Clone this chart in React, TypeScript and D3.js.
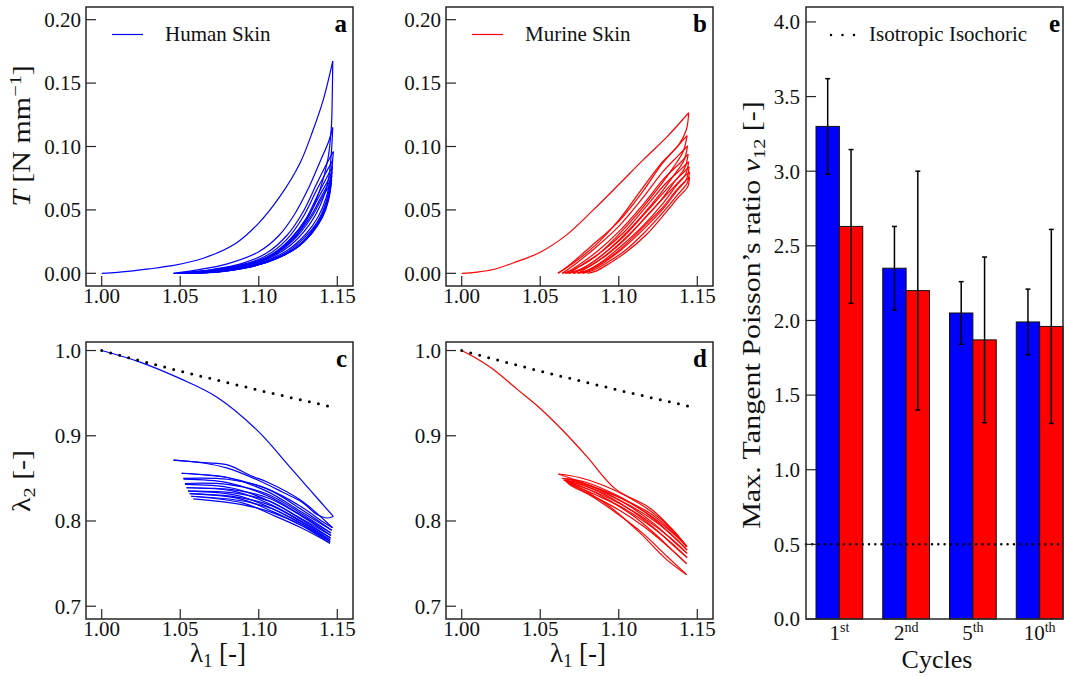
import React from 'react';
import * as d3 from 'd3';

type Pt = [number, number];

// ---- panel a: human skin, T vs lambda1 (loading / unloading per cycle)
const humanTLoad: Pt[][] = [
  [[1.000, 0], [1.010, 0.0008], [1.020, 0.002], [1.030, 0.0035], [1.0435, 0.0058], [1.0647, 0.0119], [1.086, 0.0242], [1.100, 0.0396], [1.1135, 0.0606], [1.1263, 0.087], [1.1347, 0.1134], [1.1411, 0.137], [1.1471, 0.1674]],
  [[1.0457, 0], [1.060, 0.0025], [1.080, 0.0075], [1.100, 0.017], [1.113, 0.030], [1.123, 0.047], [1.132, 0.068], [1.139, 0.088], [1.1445, 0.104], [1.1471, 0.115]],
  [[1.049, 0], [1.070, 0.003], [1.090, 0.008], [1.105, 0.016], [1.118, 0.030], [1.128, 0.048], [1.137, 0.071], [1.1435, 0.087], [1.1475, 0.096]],
  [[1.051, 0], [1.070, 0.0025], [1.090, 0.007], [1.105, 0.014], [1.118, 0.027], [1.128, 0.044], [1.137, 0.066], [1.1435, 0.081], [1.147, 0.089]],
  [[1.053, 0], [1.072, 0.0025], [1.092, 0.007], [1.107, 0.014], [1.120, 0.027], [1.130, 0.043], [1.138, 0.063], [1.1435, 0.076], [1.1468, 0.084]],
  [[1.055, 0], [1.075, 0.0025], [1.095, 0.0075], [1.110, 0.016], [1.122, 0.029], [1.131, 0.044], [1.139, 0.062], [1.144, 0.073], [1.1466, 0.080]],
  [[1.057, 0], [1.077, 0.0025], [1.097, 0.008], [1.112, 0.017], [1.124, 0.030], [1.133, 0.045], [1.140, 0.061], [1.1445, 0.071], [1.1465, 0.077]],
  [[1.058, 0], [1.078, 0.0025], [1.098, 0.008], [1.113, 0.017], [1.125, 0.030], [1.134, 0.045], [1.1405, 0.060], [1.1448, 0.069], [1.1464, 0.074]],
];
const humanTUnload: Pt[][] = [
  [[1.1471, 0.1674], [1.1468, 0.140], [1.1462, 0.115], [1.144, 0.090], [1.139, 0.066], [1.131, 0.043], [1.120, 0.025], [1.105, 0.012], [1.085, 0.0055], [1.065, 0.002], [1.0457, 0]],
  [[1.1471, 0.115], [1.1462, 0.095], [1.1445, 0.075], [1.140, 0.056], [1.132, 0.038], [1.120, 0.022], [1.105, 0.011], [1.085, 0.0045], [1.065, 0.0015], [1.048, 0]],
  [[1.1475, 0.096], [1.146, 0.078], [1.143, 0.060], [1.138, 0.045], [1.130, 0.031], [1.118, 0.018], [1.100, 0.008], [1.080, 0.003], [1.050, 0]],
  [[1.147, 0.089], [1.1455, 0.071], [1.1425, 0.055], [1.137, 0.040], [1.129, 0.028], [1.117, 0.016], [1.100, 0.0075], [1.080, 0.0025], [1.052, 0]],
  [[1.1468, 0.084], [1.1452, 0.066], [1.142, 0.051], [1.136, 0.037], [1.128, 0.025], [1.116, 0.0145], [1.100, 0.007], [1.080, 0.002], [1.054, 0]],
  [[1.1466, 0.080], [1.145, 0.063], [1.1415, 0.048], [1.135, 0.034], [1.126, 0.022], [1.114, 0.013], [1.098, 0.006], [1.078, 0.0018], [1.056, 0]],
  [[1.1465, 0.077], [1.1448, 0.061], [1.141, 0.046], [1.134, 0.032], [1.125, 0.021], [1.112, 0.012], [1.096, 0.0055], [1.076, 0.0015], [1.058, 0]],
  [[1.1464, 0.074], [1.1445, 0.058], [1.1405, 0.044], [1.1335, 0.031], [1.124, 0.020], [1.111, 0.0115], [1.095, 0.005], [1.075, 0.0012], [1.059, 0]],
];

// ---- panel b: murine skin, T vs lambda1
const murineTLoad: Pt[][] = [
  [[1.000, 0], [1.010, 0.001], [1.020, 0.003], [1.035, 0.0092], [1.050, 0.0166], [1.0668, 0.0303], [1.0838, 0.050], [1.100, 0.070], [1.116, 0.090], [1.131, 0.108], [1.1445, 0.1266]],
  [[1.0615, 0], [1.070, 0.008], [1.082, 0.021], [1.100, 0.041], [1.115, 0.064], [1.128, 0.087], [1.138, 0.101], [1.1435, 0.1086]],
  [[1.064, 0], [1.073, 0.008], [1.085, 0.020], [1.100, 0.037], [1.115, 0.059], [1.128, 0.080], [1.138, 0.093], [1.1438, 0.1005]],
  [[1.066, 0], [1.075, 0.007], [1.087, 0.018], [1.101, 0.034], [1.116, 0.055], [1.129, 0.075], [1.139, 0.087], [1.1442, 0.094]],
  [[1.068, 0], [1.077, 0.007], [1.089, 0.017], [1.103, 0.032], [1.117, 0.052], [1.130, 0.071], [1.1395, 0.082], [1.1445, 0.088]],
  [[1.071, 0], [1.080, 0.006], [1.091, 0.016], [1.104, 0.030], [1.118, 0.049], [1.131, 0.067], [1.140, 0.078], [1.1448, 0.084]],
  [[1.074, 0], [1.082, 0.006], [1.093, 0.015], [1.105, 0.028], [1.119, 0.047], [1.132, 0.064], [1.1405, 0.075], [1.145, 0.080]],
  [[1.077, 0], [1.086, 0.006], [1.097, 0.015], [1.107, 0.026], [1.120, 0.042], [1.128, 0.052], [1.137, 0.066], [1.145, 0.076]],
];
const murineTUnload: Pt[][] = [
  [[1.1445, 0.1266], [1.143, 0.113], [1.138, 0.101], [1.128, 0.088], [1.115, 0.067], [1.100, 0.042], [1.085, 0.022], [1.072, 0.009], [1.0611, 0]],
  [[1.1435, 0.1086], [1.141, 0.096], [1.135, 0.084], [1.125, 0.067], [1.112, 0.047], [1.098, 0.028], [1.085, 0.013], [1.073, 0.004], [1.064, 0]],
  [[1.1438, 0.1005], [1.1415, 0.089], [1.1355, 0.078], [1.126, 0.062], [1.113, 0.043], [1.099, 0.025], [1.086, 0.011], [1.075, 0.003], [1.066, 0]],
  [[1.1442, 0.094], [1.142, 0.083], [1.136, 0.073], [1.127, 0.058], [1.114, 0.040], [1.100, 0.023], [1.087, 0.010], [1.077, 0.003], [1.068, 0]],
  [[1.1445, 0.088], [1.1425, 0.078], [1.1365, 0.069], [1.128, 0.055], [1.115, 0.037], [1.101, 0.021], [1.089, 0.009], [1.079, 0.002], [1.071, 0]],
  [[1.1448, 0.084], [1.143, 0.074], [1.137, 0.065], [1.129, 0.052], [1.116, 0.035], [1.102, 0.019], [1.090, 0.008], [1.081, 0.002], [1.074, 0]],
  [[1.145, 0.080], [1.1435, 0.071], [1.1375, 0.062], [1.1295, 0.050], [1.117, 0.033], [1.104, 0.018], [1.092, 0.008], [1.083, 0.002], [1.077, 0]],
  [[1.145, 0.076], [1.1438, 0.068], [1.138, 0.060], [1.130, 0.048], [1.118, 0.031], [1.105, 0.017], [1.093, 0.007], [1.085, 0.0015], [1.080, 0]],
];

// ---- panel c: human skin, lambda2 vs lambda1
const humanL2Load: Pt[][] = [
  [[1.000, 1.000], [1.0244, 0.9864], [1.050, 0.967], [1.0732, 0.9455], [1.100, 0.9046], [1.1178, 0.8676], [1.1326, 0.8364], [1.1475, 0.8053]],
  [[1.0457, 0.8715], [1.065, 0.8685], [1.0806, 0.8656], [1.095, 0.853], [1.105, 0.846], [1.1263, 0.8248], [1.147, 0.792]],
  [[1.0509, 0.856], [1.080, 0.851], [1.105, 0.835], [1.126, 0.812], [1.1465, 0.789]],
  [[1.052, 0.849], [1.080, 0.845], [1.105, 0.830], [1.126, 0.808], [1.146, 0.786]],
  [[1.053, 0.843], [1.082, 0.839], [1.106, 0.824], [1.127, 0.803], [1.146, 0.783]],
  [[1.054, 0.839], [1.084, 0.835], [1.107, 0.820], [1.127, 0.800], [1.1458, 0.780]],
  [[1.055, 0.835], [1.086, 0.830], [1.108, 0.815], [1.127, 0.797], [1.1455, 0.778]],
  [[1.056, 0.832], [1.088, 0.826], [1.109, 0.811], [1.127, 0.795], [1.1455, 0.776]],
  [[1.057, 0.829], [1.090, 0.821], [1.110, 0.806], [1.127, 0.792], [1.1453, 0.774]],
];
const humanL2Unload: Pt[][] = [
  [[1.1475, 0.8053], [1.143, 0.8035], [1.137, 0.8075], [1.128, 0.8215], [1.115, 0.834], [1.100, 0.8475], [1.080, 0.862], [1.065, 0.868], [1.0457, 0.8715]],
  [[1.147, 0.792], [1.140, 0.800], [1.126, 0.818], [1.105, 0.838], [1.080, 0.851], [1.065, 0.854], [1.0509, 0.856]],
  [[1.1465, 0.789], [1.126, 0.815], [1.105, 0.838], [1.080, 0.849], [1.052, 0.850]],
  [[1.146, 0.786], [1.126, 0.810], [1.105, 0.832], [1.080, 0.843], [1.053, 0.844]],
  [[1.146, 0.783], [1.127, 0.806], [1.106, 0.827], [1.082, 0.837], [1.054, 0.839]],
  [[1.1458, 0.780], [1.127, 0.802], [1.107, 0.823], [1.084, 0.833], [1.055, 0.835]],
  [[1.1455, 0.778], [1.127, 0.799], [1.108, 0.818], [1.086, 0.828], [1.056, 0.832]],
  [[1.1455, 0.776], [1.127, 0.797], [1.109, 0.814], [1.088, 0.824], [1.057, 0.829]],
  [[1.1453, 0.774], [1.127, 0.795], [1.110, 0.809], [1.090, 0.819], [1.0583, 0.826]],
];

// ---- panel d: murine skin, lambda2 vs lambda1
const murineL2Load: Pt[][] = [
  [[1.000, 1.000], [1.010, 0.990], [1.020, 0.978], [1.035, 0.955], [1.050, 0.932], [1.065, 0.905], [1.080, 0.875], [1.0976, 0.838], [1.1199, 0.815], [1.1347, 0.789], [1.1432, 0.7697]],
  [[1.0615, 0.8551], [1.075, 0.851], [1.090, 0.842], [1.105, 0.829], [1.120, 0.812], [1.134, 0.790], [1.1435, 0.770]],
  [[1.064, 0.850], [1.078, 0.846], [1.092, 0.836], [1.107, 0.822], [1.122, 0.803], [1.135, 0.781], [1.1435, 0.766]],
  [[1.065, 0.848], [1.079, 0.843], [1.093, 0.832], [1.108, 0.816], [1.123, 0.796], [1.135, 0.776], [1.1435, 0.762]],
  [[1.066, 0.847], [1.080, 0.840], [1.094, 0.828], [1.109, 0.811], [1.123, 0.791], [1.135, 0.771], [1.1435, 0.757]],
  [[1.067, 0.846], [1.081, 0.837], [1.095, 0.823], [1.110, 0.805], [1.123, 0.785], [1.135, 0.764], [1.1432, 0.750]],
  [[1.0668, 0.846], [1.080, 0.834], [1.0944, 0.8166], [1.1135, 0.786], [1.1305, 0.7547], [1.1432, 0.737]],
];
const murineL2Unload: Pt[][] = [
  [[1.1432, 0.7697], [1.135, 0.786], [1.120, 0.809], [1.100, 0.828], [1.080, 0.843], [1.0615, 0.8551]],
  [[1.1435, 0.770], [1.133, 0.788], [1.118, 0.809], [1.102, 0.826], [1.085, 0.839], [1.070, 0.848], [1.064, 0.850]],
  [[1.1435, 0.766], [1.133, 0.785], [1.118, 0.806], [1.102, 0.823], [1.085, 0.837], [1.070, 0.846], [1.065, 0.848]],
  [[1.1435, 0.762], [1.133, 0.780], [1.118, 0.801], [1.102, 0.819], [1.085, 0.834], [1.070, 0.844], [1.066, 0.847]],
  [[1.1435, 0.757], [1.133, 0.775], [1.118, 0.797], [1.102, 0.816], [1.085, 0.831], [1.070, 0.843], [1.067, 0.846]],
  [[1.1432, 0.750], [1.132, 0.769], [1.117, 0.792], [1.101, 0.812], [1.085, 0.828], [1.070, 0.841], [1.0668, 0.846]],
  [[1.1432, 0.737], [1.131, 0.758], [1.115, 0.786], [1.098, 0.810], [1.082, 0.830], [1.068, 0.844]],
];

// isotropic isochoric reference line
const isochoric: Pt[] = [[1.000, 1.000], [1.025, 0.9877], [1.050, 0.9759], [1.075, 0.9645], [1.100, 0.9535], [1.125, 0.9428], [1.147, 0.9337]];

// ---- panel e: bars
const cycleNums = ['1', '2', '5', '10'];
const cycleSuffix = ['st', 'nd', 'th', 'th'];
const humanMean = [3.30, 2.35, 2.05, 1.99];
const humanSd = [0.32, 0.28, 0.21, 0.22];
const murineMean = [2.63, 2.20, 1.87, 1.96];
const murineSd = [0.515, 0.80, 0.555, 0.65];

const lamTicks = [1.0, 1.05, 1.1, 1.15];
const tTicks = [0, 0.05, 0.1, 0.15, 0.2];
const l2Ticks = [0.7, 0.8, 0.9, 1.0];
const nuTicks = [0, 0.5, 1, 1.5, 2, 2.5, 3, 3.5, 4];

const FONT = '"Liberation Serif", "Times New Roman", serif';
const BLUE = '#0000ff';
const RED = '#ff0000';
const AX = '#262626';
const TICK_FS = 21;

// rotated axis label, a bit stretched along its length like the original
const VLabel = ({ x, y, children }: { x: number; y: number; children: React.ReactNode }) => (
  <text transform={`translate(${x},${y}) rotate(-90) scale(1.2,1)`} textAnchor="middle" fontSize={25} fontFamily={FONT} fill="#111">
    {children}
  </text>
);

interface PanelProps {
  left: number; top: number; right: number; bottom: number;
  yDomain: [number, number]; yTicks: number[]; yFmt: string;
  load: Pt[][]; unload: Pt[][]; color: string; letter: string;
  legend?: string; iso?: boolean;
}

function Panel(p: PanelProps) {
  const x = d3.scaleLinear().domain([0.99, 1.16]).range([p.left, p.right]);
  const y = d3.scaleLinear().domain(p.yDomain).range([p.bottom, p.top]);
  const line = d3.line<Pt>().x(d => x(d[0])).y(d => y(d[1])).curve(d3.curveCatmullRom.alpha(0.5));
  const fmtY = d3.format(p.yFmt);
  const fmtX = d3.format('.2f');
  const clipId = 'clip-' + p.letter;
  return (
    <g>
      <clipPath id={clipId}>
        <rect x={p.left} y={p.top} width={p.right - p.left} height={p.bottom - p.top} />
      </clipPath>
      <g clipPath={`url(#${clipId})`} fill="none" stroke={p.color} strokeWidth={1.2}>
        {p.load.map((c, i) => <path key={'l' + i} d={line(c) || ''} />)}
        {p.unload.map((c, i) => <path key={'u' + i} d={line(c) || ''} />)}
        {p.iso && (
          <path d={d3.line<Pt>().x(d => x(d[0])).y(d => y(d[1]))(isochoric) || ''}
            stroke="#000" strokeWidth={3} strokeLinecap="round" strokeDasharray="0,9.3" />
        )}
      </g>
      {lamTicks.map(t => (
        <g key={'x' + t}>
          <line x1={x(t)} x2={x(t)} y1={p.bottom} y2={p.bottom - 10} stroke={AX} strokeWidth={1.2} />
          <text x={x(t)} y={p.bottom + 17} textAnchor="middle" fontSize={TICK_FS} fontFamily={FONT} fill="#111">{fmtX(t)}</text>
        </g>
      ))}
      {p.yTicks.map(t => (
        <g key={'y' + t}>
          <line x1={p.left} x2={p.left + 10} y1={y(t)} y2={y(t)} stroke={AX} strokeWidth={1.2} />
          <text x={p.left - 5} y={y(t)} dy="0.35em" textAnchor="end" fontSize={TICK_FS} fontFamily={FONT} fill="#111">{fmtY(t)}</text>
        </g>
      ))}
      <rect x={p.left} y={p.top} width={p.right - p.left} height={p.bottom - p.top} fill="none" stroke={AX} strokeWidth={1.5} />
      <text x={p.right - 6} y={p.top + 25} textAnchor="end" fontSize={25} fontWeight="bold" fontFamily={FONT}>{p.letter}</text>
      {p.legend && (
        <g>
          <line x1={p.left + 26} x2={p.left + 57} y1={p.top + 27.5} y2={p.top + 27.5} stroke={p.color} strokeWidth={1.2} />
          <text x={p.left + 79} y={p.top + 34} fontSize={21} fontFamily={FONT} fill="#111">{p.legend}</text>
        </g>
      )}
    </g>
  );
}

function Bars() {
  const left = 806, right = 1063, top = 7, bottom = 619;
  const x = d3.scaleLinear().domain([-0.5, 3.35]).range([left, right]);
  const y = d3.scaleLinear().domain([0, 4.1]).range([bottom, top]);
  const w = 0.35;
  const fmt = d3.format('.1f');
  const series = [
    { mean: humanMean, sd: humanSd, color: BLUE, off: -w },
    { mean: murineMean, sd: murineSd, color: RED, off: 0 },
  ];
  return (
    <g>
      {series.map((s, si) => s.mean.map((m, i) => (
        <rect key={si + '-' + i} x={x(i + s.off)} y={y(m)} width={x(i + s.off + w) - x(i + s.off)} height={y(0) - y(m)}
          fill={s.color} stroke="#111" strokeWidth={1} />
      )))}
      {series.map((s, si) => s.mean.map((m, i) => {
        const cx = x(i + s.off + w / 2);
        return (
          <g key={'e' + si + i} stroke="#000" strokeWidth={1.5}>
            <line x1={cx} x2={cx} y1={y(m - s.sd[i])} y2={y(m + s.sd[i])} />
            <line x1={cx - 2.5} x2={cx + 2.5} y1={y(m - s.sd[i])} y2={y(m - s.sd[i])} />
            <line x1={cx - 2.5} x2={cx + 2.5} y1={y(m + s.sd[i])} y2={y(m + s.sd[i])} />
          </g>
        );
      }))}
      <line x1={left} x2={right} y1={y(0.5)} y2={y(0.5)} stroke="#000" strokeWidth={2.5} strokeLinecap="round" strokeDasharray="0,6.3" />
      {nuTicks.map(t => (
        <g key={'y' + t}>
          <line x1={left} x2={left + 10} y1={y(t)} y2={y(t)} stroke={AX} strokeWidth={1.2} />
          <text x={left - 6} y={y(t)} dy="0.35em" textAnchor="end" fontSize={TICK_FS} fontFamily={FONT} fill="#111">{fmt(t)}</text>
        </g>
      ))}
      {cycleNums.map((c, i) => (
        <text key={c} x={x(i)} y={bottom + 21} textAnchor="middle" fontSize={TICK_FS} fontFamily={FONT} fill="#111">
          {c}<tspan fontSize={14} dy={-8}>{cycleSuffix[i]}</tspan>
        </text>
      ))}
      <rect x={left} y={top} width={right - left} height={bottom - top} fill="none" stroke={AX} strokeWidth={1.5} />
      <text x={right - 3} y={top + 25} textAnchor="end" fontSize={25} fontWeight="bold" fontFamily={FONT}>e</text>
      <line x1={831} x2={855} y1={35} y2={35} stroke="#000" strokeWidth={2.5} strokeLinecap="round" strokeDasharray="0,11.5" />
      <text x={869} y={41} fontSize={21} fontFamily={FONT} fill="#111">Isotropic Isochoric</text>
      <text x={937} y={668} textAnchor="middle" fontSize={26} fontFamily={FONT} fill="#111">Cycles</text>
      <VLabel x={760} y={315}>
        Max. Tangent Poisson’s ratio <tspan fontStyle="italic">ν</tspan><tspan fontSize={17} dy={5}>12</tspan><tspan dy={-5}> [-]</tspan>
      </VLabel>
    </g>
  );
}

export default function App() {
  return (
    <svg width={1066} height={677} style={{ position: 'absolute', left: 0, top: 0, background: '#fff' }}>
      <rect width={1066} height={677} fill="#fff" />
      <Panel left={86} right={353} top={7} bottom={286} yDomain={[-0.01, 0.21]} yTicks={tTicks} yFmt=".2f"
        load={humanTLoad} unload={humanTUnload} color={BLUE} letter="a" legend="Human Skin" />
      <Panel left={446} right={713} top={7} bottom={286} yDomain={[-0.01, 0.21]} yTicks={tTicks} yFmt=".2f"
        load={murineTLoad} unload={murineTUnload} color={RED} letter="b" legend="Murine Skin" />
      <Panel left={86} right={353} top={342} bottom={619} yDomain={[0.685, 1.01]} yTicks={l2Ticks} yFmt=".1f"
        load={humanL2Load} unload={humanL2Unload} color={BLUE} letter="c" iso />
      <Panel left={446} right={713} top={342} bottom={619} yDomain={[0.685, 1.01]} yTicks={l2Ticks} yFmt=".1f"
        load={murineL2Load} unload={murineL2Unload} color={RED} letter="d" iso />
      <Bars />
      <VLabel x={30} y={136}>
        <tspan fontStyle="italic">T</tspan> [N mm<tspan fontSize={17} dy={-9}>−1</tspan><tspan dy={9}>]</tspan>
      </VLabel>
      <VLabel x={30} y={481}>
        λ<tspan fontSize={17} dy={5}>2</tspan><tspan dy={-5}> [-]</tspan>
      </VLabel>
      <text x={218} y={662} textAnchor="middle" fontSize={27} fontFamily={FONT} fill="#111">
        λ<tspan fontSize={18} dy={5}>1</tspan><tspan dy={-5}> [-]</tspan>
      </text>
      <text x={578} y={662} textAnchor="middle" fontSize={27} fontFamily={FONT} fill="#111">
        λ<tspan fontSize={18} dy={5}>1</tspan><tspan dy={-5}> [-]</tspan>
      </text>
    </svg>
  );
}
